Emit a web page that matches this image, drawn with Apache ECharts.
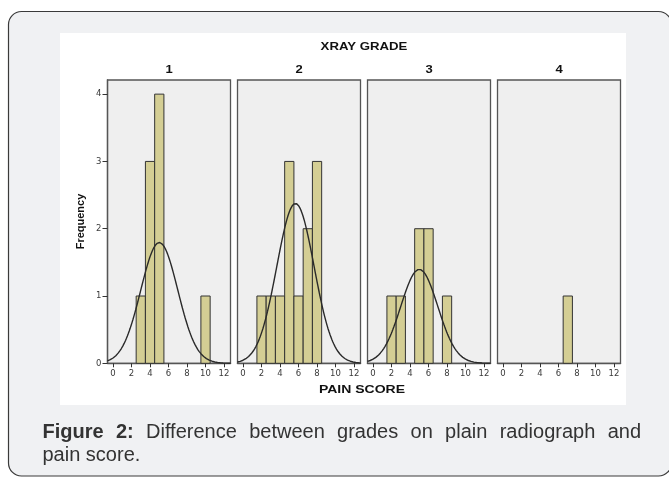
<!DOCTYPE html>
<html><head><meta charset="utf-8">
<script src="https://cdn.jsdelivr.net/npm/echarts@6/dist/echarts.min.js"></script>
<style>html,body{margin:0;padding:0;background:#fff;}#c{width:669px;height:478px;}</style>
</head><body><div id="c"></div>
<script>
// ---- data ----
const gradeLabels = ['1', '2', '3', '4'];
const grade1Scores = [3, 4, 5, 10];
const grade1Counts = [1, 3, 4, 1];
const grade2Scores = [2, 3, 4, 5, 6, 7, 8];
const grade2Counts = [1, 1, 1, 3, 1, 2, 3];
const grade3Scores = [2, 3, 5, 6, 8];
const grade3Counts = [1, 1, 2, 2, 1];
const grade4Scores = [7];
const grade4Counts = [1];
const xTickValues = [0, 2, 4, 6, 8, 10, 12];
const yTickValues = [0, 1, 2, 3, 4];
const chartTitle = 'XRAY GRADE';
const xAxisTitle = 'PAIN SCORE';
const yAxisTitle = 'Frequency';
const captionLead = 'Figure 2:';
const captionLine1 = 'Difference between grades on plain radiograph and';
const captionLine2 = 'pain score.';

// ---- layout / style ----
const X_MIN = -0.6, X_MAX = 12.7, Y_MAX = 4.21, BIN = 1;
const gridLefts = [107.5, 237.5, 367.5, 497.5];
const GRID_TOP = 80, GRID_W = 123, GRID_H = 283.3;
const TXT = 'Liberation Sans, Arial, sans-serif';
const TICK_FONT = { fontSize: 8.5, color: '#3a3a3a', fontFamily: 'DejaVu Sans', fontWeight: 'normal' };
const panels = [
  { scores: grade1Scores, counts: grade1Counts },
  { scores: grade2Scores, counts: grade2Counts },
  { scores: grade3Scores, counts: grade3Counts },
  { scores: grade4Scores, counts: grade4Counts }
];

// fitted normal curve (SPSS style) from each panel's data
function normalCurve(scores, counts) {
  let n = 0, s = 0;
  scores.forEach((x, i) => { n += counts[i]; s += x * counts[i]; });
  if (n < 2) return [];
  const mean = s / n;
  let ss = 0;
  scores.forEach((x, i) => { ss += counts[i] * (x - mean) * (x - mean); });
  const sd = Math.sqrt(ss / (n - 1));
  const pts = [];
  for (let k = 0; ; k++) {
    const x = X_MIN + k * 0.05;
    if (x > X_MAX + 1e-9) break;
    pts.push([x, n * BIN * Math.exp(-0.5 * Math.pow((x - mean) / sd, 2)) / (sd * Math.sqrt(2 * Math.PI))]);
  }
  return pts;
}

const grids = [], xAxes = [], yAxes = [], series = [];
panels.forEach((p, i) => {
  grids.push({ left: gridLefts[i], top: GRID_TOP, width: GRID_W, height: GRID_H, show: true,
    backgroundColor: '#efefef', borderColor: '#555', borderWidth: 1.3, containLabel: false });
  xAxes.push({ type: 'value', gridIndex: i, min: X_MIN, max: X_MAX,
    axisLine: { show: true, onZero: false, lineStyle: { color: '#555', width: 1.3 } },
    axisTick: { show: true, customValues: xTickValues, length: 4, lineStyle: { color: '#333', width: 1 } },
    axisLabel: Object.assign({ customValues: xTickValues, margin: 6 }, TICK_FONT),
    splitLine: { show: false } });
  const first = i === 0;
  yAxes.push({ type: 'value', gridIndex: i, min: 0, max: Y_MAX,
    axisLine: { show: first, onZero: false, lineStyle: { color: '#555', width: 1.3 } },
    axisTick: { show: first, customValues: yTickValues, length: 5, lineStyle: { color: '#333' } },
    axisLabel: Object.assign({ show: first, customValues: yTickValues, margin: 6 }, TICK_FONT),
    splitLine: { show: false } });
  series.push({ type: 'custom', xAxisIndex: i, yAxisIndex: i, clip: false, z: 2,
    data: p.scores.map((s, j) => [s, p.counts[j]]), encode: { x: 0, y: 1 },
    renderItem: (params, api) => {
      const x = api.value(0), c = api.value(1);
      const a = api.coord([x - BIN / 2, c]);
      const b = api.coord([x + BIN / 2, 0]);
      return { type: 'rect', shape: { x: a[0], y: a[1], width: b[0] - a[0], height: b[1] - a[1] },
        style: { fill: '#d4ce94', stroke: '#333', lineWidth: 1 } };
    } });
  const curve = normalCurve(p.scores, p.counts);
  if (curve.length) {
    series.push({ type: 'line', xAxisIndex: i, yAxisIndex: i, data: curve, showSymbol: false,
      smooth: false, silent: true, z: 3, lineStyle: { color: '#2a2a2a', width: 1.4 } });
  }
});

// ---- graphics: card, panel, titles, justified caption ----
const graphic = [
  { type: 'rect', z: -20, shape: { x: 8.5, y: 11.5, width: 663, height: 464.5, r: 13 },
    style: { fill: '#f0f1f3', stroke: '#3a3a3a', lineWidth: 1.2 } },
  { type: 'rect', z: -10, shape: { x: 60, y: 33, width: 566, height: 372 }, style: { fill: '#ffffff' } },
  { type: 'text', z: 10, x: 364, y: 47.5, scaleX: 1.32,
    style: { text: chartTitle, font: 'bold 10px ' + TXT, fill: '#111', align: 'center', verticalAlign: 'middle' } },
  { type: 'text', z: 10, x: 362, y: 390, scaleX: 1.4,
    style: { text: xAxisTitle, font: 'bold 10px ' + TXT, fill: '#111', align: 'center', verticalAlign: 'middle' } },
  { type: 'text', z: 10, x: 80.5, y: 221.5, rotation: Math.PI / 2,
    style: { text: yAxisTitle, font: 'bold 11px ' + TXT, fill: '#111', align: 'center', verticalAlign: 'middle' } }
];
gradeLabels.forEach((g, i) => {
  graphic.push({ type: 'text', z: 10, x: gridLefts[i] + GRID_W / 2, y: 70, scaleX: 1.3,
    style: { text: g, font: 'bold 10px ' + TXT, fill: '#111', align: 'center', verticalAlign: 'middle' } });
});

const ctx = document.createElement('canvas').getContext('2d');
const boldFont = 'bold 20px "Liberation Sans"', regFont = '20px "Liberation Sans"';
const words = captionLead.split(' ').map(t => ({ t, f: boldFont }))
  .concat(captionLine1.split(' ').map(t => ({ t, f: regFont })));
let total = 0;
words.forEach(w => { ctx.font = w.f; w.w = ctx.measureText(w.t).width; total += w.w; });
const CAP_L = 42.5, CAP_R = 641;
const gap = (CAP_R - CAP_L - total) / (words.length - 1);
let cx = CAP_L;
words.forEach(w => {
  graphic.push({ type: 'text', z: 10, x: cx, y: 432,
    style: { text: w.t, font: w.f, fill: '#333', align: 'left', verticalAlign: 'middle' } });
  cx += w.w + gap;
});
graphic.push({ type: 'text', z: 10, x: CAP_L, y: 455.5,
  style: { text: captionLine2, font: regFont, fill: '#333', align: 'left', verticalAlign: 'middle' } });

const chart = echarts.init(document.getElementById('c'), null, { renderer: 'canvas' });
chart.setOption({ animation: false, backgroundColor: '#ffffff', grid: grids, xAxis: xAxes, yAxis: yAxes,
  series, graphic });
</script></body></html>
